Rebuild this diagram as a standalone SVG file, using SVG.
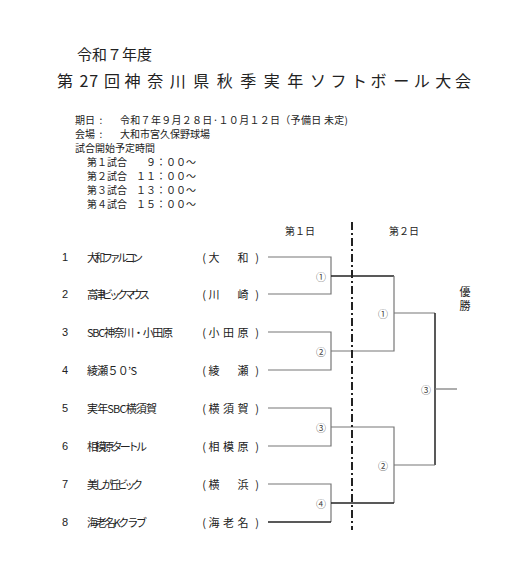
<svg xmlns="http://www.w3.org/2000/svg" width="510" height="570" viewBox="0 0 510 570">
<style>
text{font-family:"Noto Sans CJK JP","Noto Sans",sans-serif;fill:#222;dominant-baseline:central}
.info{font-size:10px}
.team{font-size:11px}
.num{font-size:11px;font-family:"Liberation Sans","Noto Sans CJK JP",sans-serif}
.pr{font-size:11px;text-anchor:middle}
.lbl{font-size:10px;text-anchor:middle;fill:#444}
.hd{font-size:10px;text-anchor:middle}
.ln{fill:none;stroke:#777;stroke-width:1.2}
.dk{fill:none;stroke:#222;stroke-width:1.5}
</style>
<rect width="510" height="570" fill="#fff"/>
<g id="header">
<text x="77" y="53" font-size="15">令和７年度</text>
<text y="80" font-size="16" x="57 79.5 89.3 104 124.6 147.2 169.7 193.2 216.7 240.3 263.8 287.3 309.9 330.5 351 370.6 393.2 413.7 435.3 455">第27回神奈川県秋季実年ソフトボール大会</text>
</g>
<g id="info">
<text class="info" x="75" y="119">期日</text><text class="info" x="101" y="119" text-anchor="middle">:</text>
<text class="info" x="120" y="119" textLength="228">令和７年９月２８日·１０月１２日（予備日 未定)</text>
<text class="info" x="75" y="133">会場</text><text class="info" x="101" y="133" text-anchor="middle">:</text>
<text class="info" x="120" y="133">大和市宮久保野球場</text>
<text class="info" x="75" y="147">試合開始予定時間</text>
<text class="info" x="87" y="161">第１試合</text><text class="info" x="196" y="161" text-anchor="end">９：００～</text>
<text class="info" x="87" y="175">第２試合</text><text class="info" x="196" y="175" text-anchor="end">１１：００～</text>
<text class="info" x="87" y="189">第３試合</text><text class="info" x="196" y="189" text-anchor="end">１３：００～</text>
<text class="info" x="87" y="203">第４試合</text><text class="info" x="196" y="203" text-anchor="end">１５：００～</text>
</g>
<g id="days">
<text class="hd" x="300" y="230">第１日</text>
<text class="hd" x="404" y="230">第２日</text>
<text x="465" y="286" font-size="11" writing-mode="tb" letter-spacing="3">優勝</text>
</g>
<g id="team1"><text class="num" x="62" y="257">1</text><text class="team" x="87" y="257" textLength="56">大和ファルコン</text>
<text class="pr" x="204" y="257">(</text><text class="pr" x="214" y="257">大</text><text class="pr" x="243" y="257">和</text><text class="pr" x="257" y="257">)</text></g>
<g id="team2"><text class="num" x="62" y="294">2</text><text class="team" x="87" y="294" textLength="63">高津ビックマウス</text>
<text class="pr" x="204" y="294">(</text><text class="pr" x="214" y="294">川</text><text class="pr" x="243" y="294">崎</text><text class="pr" x="257" y="294">)</text></g>
<g id="team3"><text class="num" x="62" y="332">3</text><text class="team" x="87" y="332" textLength="86">SBC神奈川・小田原</text>
<text class="pr" x="204" y="332">(</text><text class="pr" x="214" y="332">小</text><text class="pr" x="228.5" y="332">田</text><text class="pr" x="243" y="332">原</text><text class="pr" x="257" y="332">)</text></g>
<g id="team4"><text class="num" x="62" y="370">4</text><text class="team" x="87" y="370" textLength="50">綾瀬５０’S</text>
<text class="pr" x="204" y="370">(</text><text class="pr" x="214" y="370">綾</text><text class="pr" x="243" y="370">瀬</text><text class="pr" x="257" y="370">)</text></g>
<g id="team5"><text class="num" x="62" y="408">5</text><text class="team" x="87" y="408" textLength="70">実年SBC横須賀</text>
<text class="pr" x="204" y="408">(</text><text class="pr" x="214" y="408">横</text><text class="pr" x="228.5" y="408">須</text><text class="pr" x="243" y="408">賀</text><text class="pr" x="257" y="408">)</text></g>
<g id="team6"><text class="num" x="62" y="446">6</text><text class="team" x="87" y="446" textLength="60">相模原タートル</text>
<text class="pr" x="204" y="446">(</text><text class="pr" x="214" y="446">相</text><text class="pr" x="228.5" y="446">模</text><text class="pr" x="243" y="446">原</text><text class="pr" x="257" y="446">)</text></g>
<g id="team7"><text class="num" x="62" y="484">7</text><text class="team" x="87" y="484" textLength="56">美しが丘ビック</text>
<text class="pr" x="204" y="484">(</text><text class="pr" x="214" y="484">横</text><text class="pr" x="243" y="484">浜</text><text class="pr" x="257" y="484">)</text></g>
<g id="team8"><text class="num" x="62" y="522">8</text><text class="team" x="87" y="522" textLength="60">海老名Kクラブ</text>
<text class="pr" x="204" y="522">(</text><text class="pr" x="214" y="522">海</text><text class="pr" x="228.5" y="522">老</text><text class="pr" x="243" y="522">名</text><text class="pr" x="257" y="522">)</text></g>
<g id="labels">
<text class="lbl" x="321" y="276">①</text>
<text class="lbl" x="321" y="351">②</text>
<text class="lbl" x="321" y="427">③</text>
<text class="lbl" x="321" y="503">④</text>
<text class="lbl" x="383" y="313">①</text>
<text class="lbl" x="383" y="465">②</text>
<text class="lbl" x="426" y="389">③</text>
</g>
<g id="connectors">
<path class="ln" d="M268 257H331V294H268"/>
<path class="ln" d="M268 332H331V370H268"/>
<path class="ln" d="M268 408H331V446H268"/>
<path class="ln" d="M268 484H331V522"/>
<path class="dk" d="M331 522H268"/>
<path class="dk" d="M331 276H394"/>
<path class="ln" d="M394 276V351H331"/>
<path class="ln" d="M331 427H394V503"/>
<path class="dk" d="M394 503H331"/>
<path class="ln" d="M394 313H435"/>
<path class="dk" d="M435 313V465"/>
<path class="ln" d="M394 465H435"/>
<path class="ln" d="M435 389H457"/>
<path fill="none" stroke="#222" stroke-width="2" stroke-dasharray="8 3 2 3" d="M352 222V530"/>
</g>
</svg>
